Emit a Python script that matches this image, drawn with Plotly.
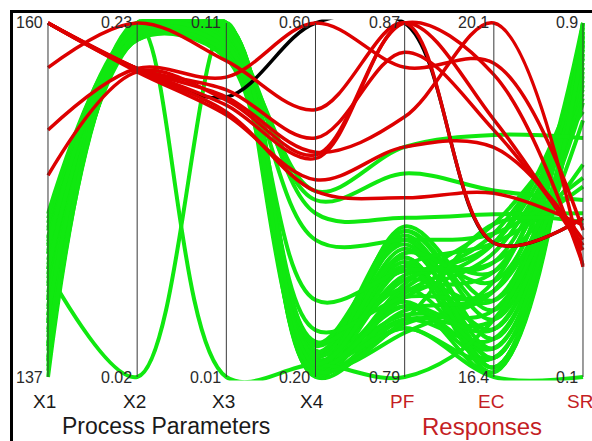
import plotly.graph_objects as go

# ---------------- data ----------------
axis_names = ["X1", "X2", "X3", "X4", "PF", "EC", "SR"]
axis_min = [137, 0.02, 0.01, 0.20, 0.79, 16.4, 0.1]
axis_max = [160, 0.23, 0.11, 0.60, 0.87, 20.1, 0.9]
top_labels = ["160", "0.23", "0.11", "0.60", "0.87", "20.1", "0.9"]
bottom_labels = ["137", "0.02", "0.01", "0.20", "0.79", "16.4", "0.1"]
group_titles = ["Process Parameters", "Responses"]

# green solutions (one entry per solution)
green_X1 = [137.0, 137.4, 137.7, 138.1, 138.3, 138.7, 139.0, 139.2, 139.6, 139.9,
            140.1, 140.5, 140.7, 141.0, 141.4, 141.6, 142.0, 142.2, 142.5, 142.9,
            143.1, 143.4, 143.7, 144.0, 144.3, 144.6, 145.0, 145.2, 145.6, 145.8,
            146.1, 146.5, 146.7, 147.0, 147.3, 147.6, 143.8, 145.0, 140.5, 142.0,
            139.0, 144.0, 141.0, 146.0, 138.0, 145.5]
green_X2 = [0.228, 0.229, 0.226, 0.227, 0.224, 0.230, 0.225, 0.228, 0.222, 0.229,
            0.226, 0.223, 0.227, 0.221, 0.228, 0.224, 0.230, 0.225, 0.222, 0.229,
            0.226, 0.220, 0.227, 0.223, 0.228, 0.221, 0.225, 0.230, 0.222, 0.226,
            0.220, 0.227, 0.224, 0.229, 0.221, 0.225, 0.020, 0.230, 0.225, 0.222,
            0.227, 0.224, 0.226, 0.223, 0.228, 0.226]
green_X3 = [0.109, 0.108, 0.110, 0.107, 0.106, 0.109, 0.105, 0.110, 0.104, 0.108,
            0.106, 0.103, 0.109, 0.107, 0.105, 0.102, 0.110, 0.106, 0.104, 0.108,
            0.103, 0.101, 0.109, 0.105, 0.107, 0.102, 0.106, 0.110, 0.104, 0.108,
            0.100, 0.107, 0.103, 0.109, 0.105, 0.101, 0.110, 0.010, 0.104, 0.102,
            0.106, 0.103, 0.105, 0.107, 0.108, 0.104]
green_X4 = [0.200, 0.205, 0.210, 0.202, 0.215, 0.208, 0.220, 0.203, 0.212, 0.225,
            0.201, 0.218, 0.206, 0.230, 0.211, 0.204, 0.222, 0.209, 0.235, 0.207,
            0.214, 0.202, 0.226, 0.210, 0.238, 0.205, 0.216, 0.203, 0.228, 0.212,
            0.201, 0.240, 0.219, 0.206, 0.224, 0.213, 0.212, 0.214, 0.410, 0.400,
            0.385, 0.355, 0.287, 0.253, 0.215, 0.207]
green_PF = [0.801, 0.812, 0.806, 0.818, 0.803, 0.821, 0.809, 0.815, 0.800, 0.823,
            0.807, 0.813, 0.819, 0.804, 0.816, 0.810, 0.822, 0.802, 0.817, 0.811,
            0.806, 0.824, 0.814, 0.808, 0.820, 0.803, 0.815, 0.809, 0.821, 0.805,
            0.817, 0.812, 0.801, 0.823, 0.810, 0.818, 0.806, 0.790, 0.842, 0.836,
            0.826, 0.821, 0.814, 0.808, 0.815, 0.803]
green_EC = [16.40, 17.20, 16.60, 17.50, 16.80, 16.50, 17.80, 16.90, 17.40, 17.00,
            16.45, 17.60, 16.70, 17.10, 16.60, 17.90, 16.80, 17.30, 16.50, 18.00,
            16.70, 17.20, 16.90, 17.70, 16.60, 17.00, 16.45, 17.50, 16.80, 17.30,
            16.50, 17.80, 16.60, 17.10, 16.70, 17.40, 16.90, 17.00, 18.93, 18.35,
            18.10, 17.90, 17.60, 17.30, 17.80, 18.00]
green_SR = [0.10, 0.88, 0.86, 0.90, 0.83, 0.89, 0.80, 0.87, 0.84, 0.78,
            0.90, 0.82, 0.86, 0.76, 0.88, 0.74, 0.85, 0.81, 0.89, 0.70,
            0.87, 0.79, 0.86, 0.73, 0.90, 0.84, 0.88, 0.77, 0.83, 0.86,
            0.90, 0.75, 0.87, 0.80, 0.85, 0.82, 0.85, 0.68, 0.64, 0.50,
            0.47, 0.55, 0.58, 0.72, 0.53, 0.45]

# red solutions
red_X1 = [153.05, 157.1, 160.0, 160.0, 150.1, 160.0, 160.0, 160.0]
red_X2 = [0.203, 0.230, 0.203, 0.203, 0.201, 0.203, 0.201, 0.202]
red_X3 = [0.0947, 0.0993, 0.0911, 0.0891, 0.0882, 0.0868, 0.0840, 0.0849]
red_X4 = [0.600, 0.502, 0.470, 0.454, 0.451, 0.447, 0.423, 0.410]
red_PF = [0.860, 0.870, 0.8634, 0.8488, 0.870, 0.870, 0.842, 0.8305]
red_EC = [19.68, 17.80, 18.98, 20.10, 19.56, 19.09, 18.80, 18.32]
red_SR = [0.432, 0.459, 0.398, 0.349, 0.353, 0.387, 0.410, 0.443]

# black (selected) solution
black_sol = [160.0, 0.203, 0.0891, 0.600, 0.870, 17.80, 0.459]

# ---------------- helpers ----------------
W, H = 592, 441


def norm(vals):
    return [(v - lo) / (hi - lo) for v, lo, hi in zip(vals, axis_min, axis_max)]


def build_xy(rows):
    xs, ys = [], []
    for row in rows:
        xs += list(range(len(axis_names))) + [None]
        ys += norm(row) + [None]
    return xs, ys


green_rows = list(zip(green_X1, green_X2, green_X3, green_X4, green_PF, green_EC, green_SR))
red_rows = list(zip(red_X1, red_X2, red_X3, red_X4, red_PF, red_EC, red_SR))

fig = go.Figure()

gx, gy = build_xy(green_rows)
fig.add_trace(go.Scatter(x=gx, y=gy, mode="lines",
                         line=dict(color="#10e810", width=4, shape="spline", smoothing=1.0),
                         hoverinfo="skip", showlegend=False))
bx, by = build_xy([black_sol])
fig.add_trace(go.Scatter(x=bx, y=by, mode="lines",
                         line=dict(color="#000000", width=3.5, shape="spline", smoothing=1.0),
                         hoverinfo="skip", showlegend=False))
rx, ry = build_xy(red_rows)
fig.add_trace(go.Scatter(x=rx, y=ry, mode="lines",
                         line=dict(color="#dd0000", width=3.5, shape="spline", smoothing=1.0),
                         hoverinfo="skip", showlegend=False))

# plot geometry (pixels)
ax_left, ax_right = 48, 583
ax_top, ax_bottom = 23, 377
px_x = (ax_right - ax_left) / 6.0
px_y = (ax_bottom - ax_top) / 1.0
xpad, ypad = 0.02, 0.01
xdom = [(ax_left - xpad * px_x) / W, (ax_right + xpad * px_x) / W]
ydom = [(H - (ax_bottom + ypad * px_y)) / H, (H - (ax_top - ypad * px_y)) / H]

fig.update_xaxes(domain=xdom, range=[-xpad, 6 + xpad], visible=False)
fig.update_yaxes(domain=ydom, range=[-ypad, 1 + ypad], visible=False)

# vertical axis lines
shapes = []
for i in range(len(axis_names)):
    shapes.append(dict(type="line", xref="x", yref="y", x0=i, x1=i, y0=0, y1=1,
                       line=dict(color="#3a3a3a", width=1), layer="above"))
# frame
shapes.append(dict(type="rect", xref="paper", yref="paper",
                   x0=11.5 / W, x1=1.05, y0=-0.05, y1=(H - 11.5) / H,
                   line=dict(color="#000000", width=3), fillcolor="rgba(0,0,0,0)"))

annotations = []
font_family = "Liberation Sans, Arial, sans-serif"
name_colors = ["#1a1a1a"] * 4 + ["#c41e24"] * 3
for i, nm in enumerate(axis_names):
    annotations.append(dict(x=i, y=1, xref="x", yref="y", text=top_labels[i],
                            showarrow=False, xanchor="right", yanchor="middle",
                            xshift=-3, yshift=1,
                            font=dict(family=font_family, size=16, color="#2a2a2a")))
    annotations.append(dict(x=i, y=0, xref="x", yref="y", text=bottom_labels[i],
                            showarrow=False, xanchor="right", yanchor="middle",
                            xshift=-3, yshift=0,
                            font=dict(family=font_family, size=16, color="#2a2a2a")))
    annotations.append(dict(x=i, y=(H - 401) / H, xref="x", yref="paper", text=nm,
                            showarrow=False, xanchor="center", yanchor="middle",
                            xshift=-3,
                            font=dict(family=font_family, size=19, color=name_colors[i])))

annotations.append(dict(x=1.32, y=(H - 426) / H, xref="x", yref="paper",
                        text=group_titles[0], showarrow=False,
                        xanchor="center", yanchor="middle",
                        font=dict(family=font_family, size=23, color="#1a1a1a")))
annotations.append(dict(x=4.87, y=(H - 426) / H, xref="x", yref="paper",
                        text=group_titles[1], showarrow=False,
                        xanchor="center", yanchor="middle",
                        font=dict(family=font_family, size=24, color="#c41e24")))

fig.update_layout(width=W, height=H, margin=dict(l=0, r=0, t=0, b=0),
                  paper_bgcolor="white", plot_bgcolor="white",
                  shapes=shapes, annotations=annotations, showlegend=False)

fig.write_html("out.html")
